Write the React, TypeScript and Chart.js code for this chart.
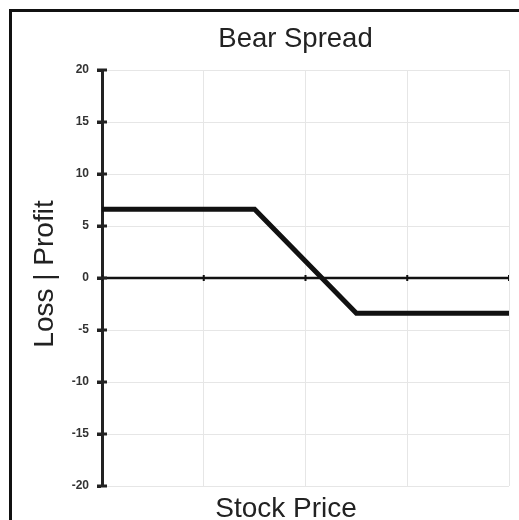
import React, { useEffect, useRef } from "react";
import { Chart, registerables } from "chart.js";

Chart.register(...registerables);

const titleText = "Bear Spread";
const xTitle = "Stock Price";
const yTitle = "Loss | Profit";
const xTicks = [0, 1, 2, 3, 4];
const yTicks = [-20, -15, -10, -5, 0, 5, 10, 15, 20];
const payoffX = [0, 1.5, 2.5, 4];
const payoffY = [6.6, 6.6, -3.4, -3.4];

const FONT = "'Liberation Sans', Arial, Helvetica, sans-serif";

const textPlugin = {
  id: "customTexts",
  afterDraw(chart: any) {
    const ctx = chart.ctx;
    const ys = chart.scales.y;
    ctx.save();
    // y-axis tick crosses
    ctx.strokeStyle = "#222";
    ctx.lineWidth = 3;
    ys.ticks.forEach((t: any) => {
      const py = ys.getPixelForValue(t.value);
      ctx.beginPath();
      ctx.moveTo(ys.right - 5, py);
      ctx.lineTo(ys.right + 5, py);
      ctx.stroke();
    });
    ctx.fillStyle = "#222";
    ctx.textAlign = "center";
    ctx.textBaseline = "alphabetic";
    ctx.font = `27.5px ${FONT}`;
    ctx.fillText(titleText, 295.5, 47);
    ctx.font = `28px ${FONT}`;
    ctx.fillText(xTitle, 286, 517);
    ctx.translate(53, 274);
    ctx.rotate(-Math.PI / 2);
    ctx.fillText(yTitle, 0, 0);
    ctx.restore();
  },
};

export default function App() {
  const ref = useRef<HTMLCanvasElement>(null);
  useEffect(() => {
    document.body.style.overflow = "hidden";
    document.documentElement.style.overflow = "hidden";
    const canvas = ref.current!;
    const chart = new Chart(canvas, {
      type: "scatter",
      data: {
        datasets: [
          {
            data: xTicks.map((x) => ({ x, y: 0 })),
            showLine: true,
            borderColor: "#111",
            borderWidth: 2.5,
            pointStyle: "line",
            pointRadius: 3,
            pointRotation: 90,
            pointBorderWidth: 2,
            pointBorderColor: "#111",
            pointBackgroundColor: "#111",
          } as any,
          {
            data: payoffX.map((x, i) => ({ x, y: payoffY[i] })),
            showLine: true,
            borderColor: "#111",
            borderWidth: 5,
            pointRadius: 0,
            borderCapStyle: "butt",
            borderJoinStyle: "miter",
          } as any,
        ],
      },
      options: {
        responsive: false,
        animation: false,
        layout: { padding: { left: 0, top: 70, right: 10, bottom: 0 } },
        plugins: {
          legend: { display: false },
          tooltip: { enabled: false },
          title: { display: false },
        },
        scales: {
          x: {
            type: "linear",
            min: 0,
            max: 4,
            afterBuildTicks: (s: any) => {
              s.ticks = xTicks.map((v) => ({ value: v }));
            },
            ticks: { display: false },
            grid: { color: "#e6e6e6", lineWidth: 1, drawTicks: false },
            border: { display: false },
            afterFit: (s: any) => {
              s.height = 34;
            },
          },
          y: {
            type: "linear",
            min: -20,
            max: 20,
            afterBuildTicks: (s: any) => {
              s.ticks = yTicks.map((v) => ({ value: v }));
            },
            ticks: {
              color: "#333",
              font: { family: FONT, size: 12, weight: "bold" },
              padding: 8,
            },
            grid: {
              color: "#e6e6e6",
              lineWidth: 1,
              drawTicks: true,
              tickLength: 5,
              tickColor: "#222",
              tickWidth: 3,
            },
            border: { display: true, color: "#222", width: 3 },
            afterFit: (s: any) => {
              s.width = 102;
            },
          },
        },
      },
      plugins: [textPlugin],
    } as any);
    return () => chart.destroy();
  }, []);
  return (
    <div>
      <canvas
        ref={ref}
        width={519}
        height={520}
        style={{ position: "absolute", left: 0, top: 0, width: 519, height: 520 }}
      />
      <div
        style={{
          position: "absolute",
          left: 9,
          top: 9,
          width: 540,
          height: 540,
          border: "3px solid #111",
          boxSizing: "border-box",
          pointerEvents: "none",
        }}
      />
    </div>
  );
}
